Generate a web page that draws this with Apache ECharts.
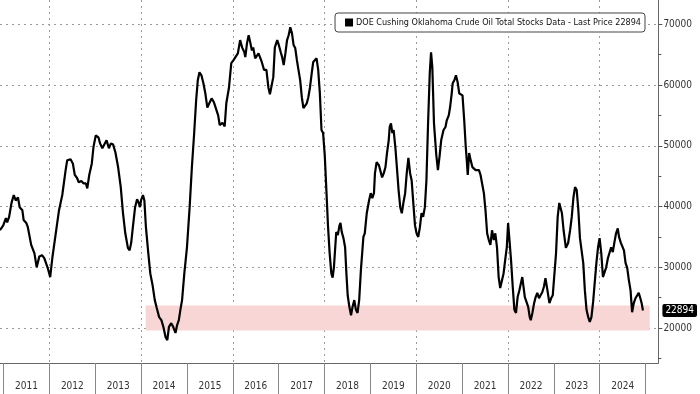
<!DOCTYPE html>
<html><head><meta charset="utf-8">
<script src="https://cdn.jsdelivr.net/npm/echarts@6/dist/echarts.min.js"></script>
<style>html,body{margin:0;padding:0;background:#fff}#c{width:700px;height:394px}</style>
</head><body><div id="c"></div>
<script>
const seriesName = 'DOE Cushing Oklahoma Crude Oil Total Stocks Data - Last Price 22894';
const lastPrice = 22894;
const years = [2011,2012,2013,2014,2015,2016,2017,2018,2019,2020,2021,2022,2023,2024];
const gridYears = [2012,2014,2016,2018,2020,2022,2024];
const yMajor = [20000,30000,40000,50000,60000,70000];
const yMinor = [15000,25000,35000,45000,55000,65000];
const band = [19600, 23700];
const bandYears = [2014.10, 2025.09];
const dates = [
2010.923,2010.994,2011.051,2011.079,2011.122,2011.174,2011.223,2011.266,2011.315,2011.352,2011.410,2011.438,2011.496,2011.530,2011.603,2011.674,2011.723,2011.781,2011.839,2011.888,2011.959,2012.017,2012.067,2012.139,2012.210,2012.281,2012.354,2012.388,2012.461,2012.511,2012.554,2012.603,2012.640,2012.697,2012.747,2012.796,2012.826,2012.869,2012.925,2012.961,2013.011,2013.069,2013.105,2013.154,2013.197,2013.247,2013.298,2013.341,2013.390,2013.440,2013.483,
2013.498,2013.556,2013.605,2013.655,2013.712,2013.749,2013.783,2013.820,2013.869,2013.912,2013.949,2013.976,2013.998,2014.041,2014.071,2014.105,2014.157,2014.200,2014.249,2014.298,2014.341,2014.393,2014.442,2014.485,2014.534,2014.571,2014.607,2014.657,2014.700,2014.749,2014.785,2014.822,2014.856,2014.893,2014.942,
2015.000,2015.058,2015.107,2015.157,2015.200,2015.236,2015.272,2015.315,2015.358,2015.401,2015.444,2015.487,2015.537,2015.586,2015.629,2015.680,2015.714,2015.772,2015.822,2015.858,2015.916,2015.966,
2016.015,2016.058,2016.109,2016.159,2016.202,2016.251,2016.272,2016.309,2016.345,2016.380,2016.416,2016.444,2016.487,2016.517,2016.560,2016.594,2016.631,2016.680,2016.732,2016.775,2016.809,2016.845,2016.882,2016.916,2016.968,
2017.002,2017.045,2017.075,2017.109,2017.146,2017.182,2017.217,2017.253,2017.290,2017.324,2017.360,2017.397,2017.431,2017.468,2017.504,2017.539,2017.575,2017.612,2017.646,2017.682,2017.719,2017.753,2017.790,2017.826,2017.861,2017.897,2017.933,2017.968,
2018.004,2018.041,2018.075,2018.111,2018.148,2018.176,2018.204,2018.233,2018.255,2018.289,2018.326,2018.347,2018.375,2018.412,2018.448,2018.476,2018.504,2018.541,2018.577,2018.611,2018.648,2018.684,2018.719,2018.755,2018.792,2018.847,2018.877,2018.920,2018.970,
2019.006,2019.041,2019.077,2019.099,2019.135,2019.185,2019.221,2019.255,2019.292,2019.328,2019.363,2019.399,2019.420,2019.448,2019.478,2019.506,2019.543,2019.577,2019.614,2019.650,2019.684,2019.721,2019.757,2019.792,2019.828,2019.865,2019.899,2019.935,2019.972,
2020.006,2020.043,2020.079,2020.114,2020.150,2020.187,2020.221,2020.257,2020.294,2020.322,2020.350,2020.386,2020.436,2020.472,2020.508,2020.543,2020.594,2020.637,2020.665,2020.708,2020.736,2020.772,2020.794,2020.830,2020.865,2020.901,2020.938,2020.972,
2021.008,2021.045,2021.079,2021.101,2021.122,2021.152,2021.187,2021.223,2021.259,2021.294,2021.330,2021.367,2021.401,2021.438,2021.474,2021.509,2021.545,2021.581,2021.616,2021.652,2021.689,2021.723,2021.760,2021.796,2021.830,2021.867,2021.903,2021.938,2021.974,
2022.002,2022.032,2022.066,2022.103,2022.139,2022.174,2022.210,2022.247,2022.281,2022.311,2022.339,2022.367,2022.403,2022.440,2022.474,2022.496,2022.532,2022.569,2022.603,2022.639,2022.676,2022.710,2022.747,2022.783,2022.817,2022.854,2022.903,2022.940,2022.976,
2023.010,2023.047,2023.083,2023.118,2023.139,2023.176,2023.212,2023.262,2023.311,2023.354,2023.390,2023.427,2023.461,2023.498,2023.534,2023.569,2023.605,2023.641,2023.676,2023.712,2023.749,2023.783,2023.819,2023.856,2023.890,2023.927,2023.963,2023.997,
2024.034,2024.070,2024.105,2024.141,2024.178,2024.212,2024.249,2024.285,2024.320,2024.356,2024.393,2024.421,2024.457,2024.491,2024.528,2024.564,2024.599,2024.635,2024.672,2024.706,2024.742,2024.779,2024.813,2024.850,2024.886,2024.914,2024.942
];
const stocks = [
36100,36900,38100,37400,38300,40600,41900,41000,41500,39900,39400,37800,37300,36600,33700,32300,30000,31800,32000,31500,30000,28400,31700,35600,39400,41900,46000,47600,47800,47100,45200,44700,44000,44200,43800,43800,43000,45200,47100,49800,51700,51400,50400,49600,49300,50900,49600,50400,50200,48900,48700,
46500,43200,38900,35600,33200,32800,34000,36600,39900,41200,40600,39900,41000,41900,41000,36600,32300,29000,27100,24600,23300,21800,21300,20200,18500,18000,20200,20800,20200,19200,20500,21300,23000,24600,29000,
33300,39900,46500,52100,57500,60800,62100,61600,60300,58600,56300,57000,57800,57200,57500,55000,53400,53800,53200,57000,59600,63600,
64100,63800,65200,67400,66200,65400,64600,66900,68200,67000,65700,66200,64400,64100,65200,64900,63800,62500,62500,59600,58500,58800,61300,66200,67400,
66600,65400,64600,63300,65200,67400,68200,69500,68500,66600,66100,64100,62500,60800,58000,56200,56500,57000,58000,59600,61900,63800,63900,64400,62500,58700,52600,52100,
48500,42500,36800,32300,29000,28300,30000,33300,35800,35300,36900,37300,35800,34800,33300,29000,25400,23500,22100,23500,24600,23000,22500,24600,29500,35000,35600,38900,41000,
42200,41400,42200,45500,47300,46800,47100,44800,45500,46500,48900,50900,53100,53700,52100,52600,49800,46500,42700,39900,38900,40700,42200,45500,48000,45500,44300,40600,36900,
35600,35000,36600,38900,38300,39900,44300,53700,62000,65400,62900,53700,48500,46000,48300,50900,52600,53100,54200,55000,56300,58600,60300,60800,61600,60500,58600,58800,
58300,54200,49800,47600,45200,48800,47600,46500,46800,46000,46300,46000,45200,45500,42200,39400,35600,34500,33700,36100,34500,35600,33300,28400,26600,26800,29000,31200,33300,
37300,34500,31200,26800,23000,22500,25100,26200,26200,28400,28700,25100,24900,23500,21800,21300,22500,24100,25100,25800,24900,25400,25900,26800,28200,26500,24100,24900,25400,
25100,32300,38300,40600,40700,38900,36100,33200,34000,36100,38300,41500,43200,42700,39400,34800,34500,30700,26200,23000,21800,21000,21800,24300,27400,30700,33300,34800,
32300,28400,28200,30000,31500,31700,33300,32500,34100,35600,36400,35000,34100,34100,32800,30700,29900,27900,26200,22600,24100,24900,25100,25800,24900,24100,22894
];

const FONT = "'Liberation Sans Narrow', 'Arial Narrow', 'DejaVu Sans Condensed', sans-serif";
const LFONT = "'DejaVu Sans Condensed', 'DejaVu Sans', sans-serif";
const xMin = 2010.923, xMax = 2025.279;
const yMin = 14250, yMax = 74000;
const yearEdges = years.concat([years[years.length - 1] + 1]);
const yearMids = years.map(y => y + 0.5);
const points = dates.map((d, i) => [d, stocks[i]]);
const dotted = { type: [2, 4], color: '#9a9a9a', width: 1 };

const chart = echarts.init(document.getElementById('c'), null, { renderer: 'canvas' });
chart.setOption({
  animation: false,
  backgroundColor: '#fff',
  grid: { left: 0, right: 31, top: 0, bottom: 31, containLabel: false },
  legend: {
    data: [seriesName], top: 13, right: 55, icon: 'rect', itemWidth: 8, itemHeight: 8, itemGap: 4,
    borderColor: '#444', borderWidth: 1, borderRadius: 3, padding: [5, 4, 5, 10],
    backgroundColor: '#fff',
    textStyle: { fontFamily: LFONT, fontSize: 9, color: '#111', padding: [0, 0, 0, -2] }
  },
  xAxis: [
    { type: 'value', min: xMin, max: xMax,
      axisLine: { show: false }, axisLabel: { show: false },
      axisTick: { show: false, customValues: gridYears },
      splitLine: { show: true, lineStyle: dotted } },
    { type: 'value', min: xMin, max: xMax, position: 'bottom',
      axisLine: { show: true, onZero: false, lineStyle: { color: '#666', width: 1 } },
      axisTick: { show: true, customValues: yearEdges, length: 31, inside: false, lineStyle: { color: '#888' } },
      axisLabel: { customValues: yearMids, formatter: v => String(Math.floor(v)), margin: 18,
        fontFamily: FONT, fontSize: 10, color: '#333' },
      splitLine: { show: false } }
  ],
  yAxis: [
    { type: 'value', position: 'right', min: yMin, max: yMax,
      axisLine: { show: true, lineStyle: { color: '#666' } },
      axisTick: { show: true, customValues: yMajor, length: 4, inside: false, lineStyle: { color: '#555' } },
      axisLabel: { customValues: yMajor, formatter: v => String(v), margin: 5, fontFamily: FONT, fontSize: 10, color: '#333' },
      splitLine: { show: true, lineStyle: dotted } },
    { type: 'value', position: 'right', min: yMin, max: yMax,
      axisLine: { show: false }, axisLabel: { show: false }, splitLine: { show: false },
      axisTick: { show: true, customValues: yMinor, length: 3, inside: false, lineStyle: { color: '#555' } } },
    { type: 'value', position: 'right', min: yMin, max: yMax,
      axisLine: { show: false }, axisTick: { show: false }, splitLine: { show: false },
      axisLabel: { customValues: [lastPrice], formatter: v => String(v), margin: 4,
        backgroundColor: '#000', color: '#fff', padding: [2, 3, 1, 3], borderRadius: 2,
        fontFamily: FONT, fontSize: 10 } }
  ],
  series: [{
    name: seriesName, type: 'line', xAxisIndex: 0, yAxisIndex: 0,
    data: points, showSymbol: false, symbol: 'none',
    lineStyle: { color: '#000', width: 2.2 }, itemStyle: { color: '#000' },
    markArea: { silent: true, itemStyle: { color: '#f9d6d6' },
      data: [[{ xAxis: bandYears[0], yAxis: band[0] }, { xAxis: bandYears[1], yAxis: band[1] }]] }
  }]
});
</script></body></html>
